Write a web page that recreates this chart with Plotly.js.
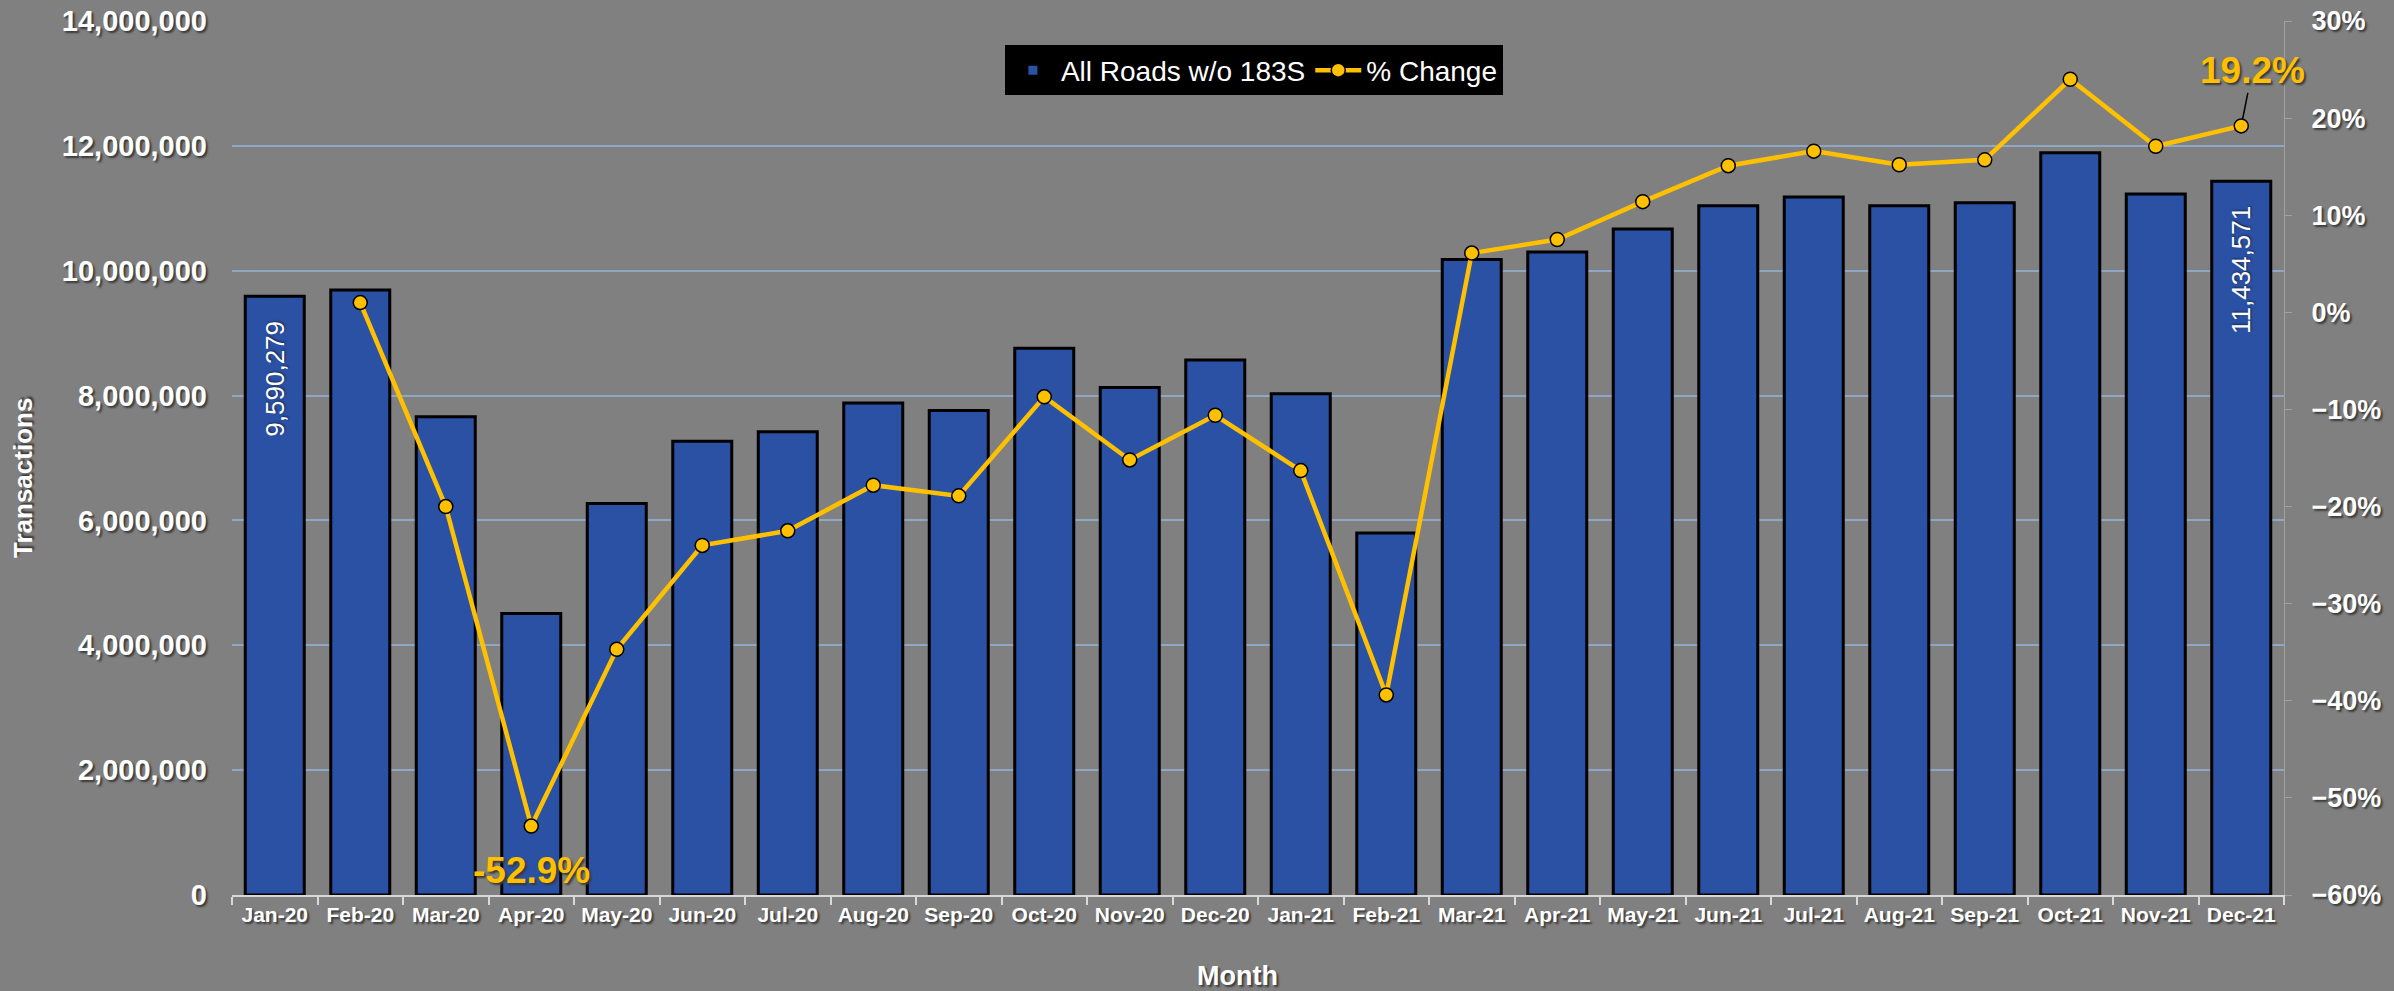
<!DOCTYPE html>
<html>
<head>
<meta charset="utf-8">
<script src="https://cdn.plot.ly/plotly-3.0.1.min.js"></script>
<style>
  html, body { margin: 0; padding: 0; background: #808080; }
  #chart { width: 2394px; height: 991px; }
</style>
</head>
<body>
<div id="chart"></div>
<script>
// ---- data ----
const months = ['Jan-20','Feb-20','Mar-20','Apr-20','May-20','Jun-20','Jul-20','Aug-20','Sep-20','Oct-20','Nov-20','Dec-20',
                'Jan-21','Feb-21','Mar-21','Apr-21','May-21','Jun-21','Jul-21','Aug-21','Sep-21','Oct-21','Nov-21','Dec-21'];
const transactions = [9590279, 9690000, 7660000, 4510000, 6270000, 7270000, 7420000, 7880000, 7760000, 8760000, 8130000, 8570000,
                      8030000, 5800000, 10180000, 10300000, 10670000, 11040000, 11180000, 11040000, 11090000, 11890000, 11230000, 11434571];
const pctChange = [null, 1.0, -20.0, -52.9, -34.7, -24.0, -22.5, -17.8, -18.9, -8.7, -15.2, -10.6,
                   -16.3, -39.4, 6.1, 7.5, 11.4, 15.1, 16.6, 15.2, 15.7, 24.0, 17.1, 19.2];
const barName = 'All Roads w/o 183S';
const lineName = '% Change';
const xTitle = 'Month';
const yTitle = 'Transactions';
const labeledBars = [0, 23];          // bars carrying a value label
const labeledPoints = [3, 23];        // points carrying a % label

// ---- styles ----
const FONT = 'Liberation Sans, Arial, sans-serif';
const SHADOW = '2px 2px 2px #3a3a3a';
const ORANGE = '#FFC000';
const PAD = '\u00a0\u00a0\u00a0';

const barText = transactions.map((v, i) => labeledBars.includes(i) ? v.toLocaleString('en-US') + PAD : '');

const bars = {
  type: 'bar',
  name: barName,
  x: months,
  y: transactions,
  text: barText,
  textposition: 'inside',
  insidetextanchor: 'end',
  textangle: -90,
  constraintext: 'none',
  insidetextfont: { family: FONT, size: 26, color: '#ffffff', shadow: '1px 1px 2px #1a2a55' },
  marker: { color: '#2A51A3', line: { color: '#000000', width: 3 } },
  hoverinfo: 'x+y'
};

const line = {
  type: 'scatter',
  mode: 'lines+markers',
  name: lineName,
  x: months,
  y: pctChange,
  yaxis: 'y2',
  line: { color: ORANGE, width: 4.5 },
  marker: { color: ORANGE, size: 14, line: { color: '#000000', width: 1.5 } },
  hoverinfo: 'x+y'
};

const titleFont = { family: FONT, color: '#ffffff', weight: 'bold', shadow: SHADOW };
const annotations = [
  { text: xTitle, xref: 'paper', yref: 'paper', x: 0.490, y: -0.0927, xanchor: 'center', yanchor: 'middle',
    showarrow: false, font: Object.assign({ size: 27 }, titleFont) },
  { text: yTitle, xref: 'paper', yref: 'paper', x: -0.1019, y: 0.477, xanchor: 'center', yanchor: 'middle',
    textangle: -90, showarrow: false, font: Object.assign({ size: 26 }, titleFont) }
];
// -52.9% label below the point
{
  const i = labeledPoints[0];
  annotations.push({
    x: months[i], y: pctChange[i], xref: 'x', yref: 'y2',
    text: pctChange[i].toFixed(1) + '%', showarrow: false, yshift: -44,
    font: { family: FONT, size: 37, color: ORANGE, weight: 'bold', shadow: SHADOW }
  });
}
// 19.2% label with a leader line
{
  const i = labeledPoints[1];
  annotations.push({
    x: months[i], y: pctChange[i], xref: 'x', yref: 'y2',
    text: pctChange[i].toFixed(1) + '%', showarrow: true, arrowhead: 0,
    arrowcolor: '#000000', arrowwidth: 1.5, ax: 11, ay: -55, standoff: 6,
    font: { family: FONT, size: 37, color: ORANGE, weight: 'bold', shadow: SHADOW }
  });
}

const layout = {
  width: 2394,
  height: 991,
  paper_bgcolor: '#808080',
  plot_bgcolor: '#808080',
  margin: { l: 232, r: 110, t: 21, b: 96 },
  bargap: 0.31,
  showlegend: true,
  legend: {
    orientation: 'h', x: 0.498, xanchor: 'center', y: 0.972, yanchor: 'top',
    bgcolor: '#000000', bordercolor: '#000000', borderwidth: 0,
    font: { family: FONT, size: 28, color: '#ffffff' },
    itemwidth: 46, traceorder: 'normal'
  },
  xaxis: {
    type: 'category',
    range: [-0.5, months.length - 0.5],
    tickson: 'boundaries',
    ticks: 'outside', ticklen: 8, tickwidth: 2, tickcolor: '#d9d9d9',
    showline: true, linecolor: '#d9d9d9', linewidth: 2,
    showgrid: false,
    tickfont: { family: FONT, size: 21, color: '#ffffff', weight: 'bold', shadow: SHADOW },
    tickangle: 0
  },
  yaxis: {
    range: [0, 14000000],
    dtick: 2000000,
    tickformat: ',d',
    showgrid: true, gridcolor: '#8FA6C4', gridwidth: 1.5,
    zeroline: false, showline: false, ticks: '',
    ticklabelstandoff: 24,
    tickfont: { family: FONT, size: 29, color: '#ffffff', weight: 'bold', shadow: SHADOW }
  },
  yaxis2: {
    overlaying: 'y', side: 'right',
    range: [-60, 30], dtick: 10, ticksuffix: '%',
    showgrid: false, zeroline: false,
    showline: true, linecolor: '#a0a0a0', linewidth: 1,
    ticks: 'outside', ticklen: 7, tickcolor: '#a0a0a0',
    ticklabelstandoff: 14,
    tickfont: { family: FONT, size: 27, color: '#ffffff', weight: 'bold', shadow: SHADOW }
  },
  annotations: annotations
};

Plotly.newPlot('chart', [bars, line], layout, { displayModeBar: false });
</script>
</body>
</html>
